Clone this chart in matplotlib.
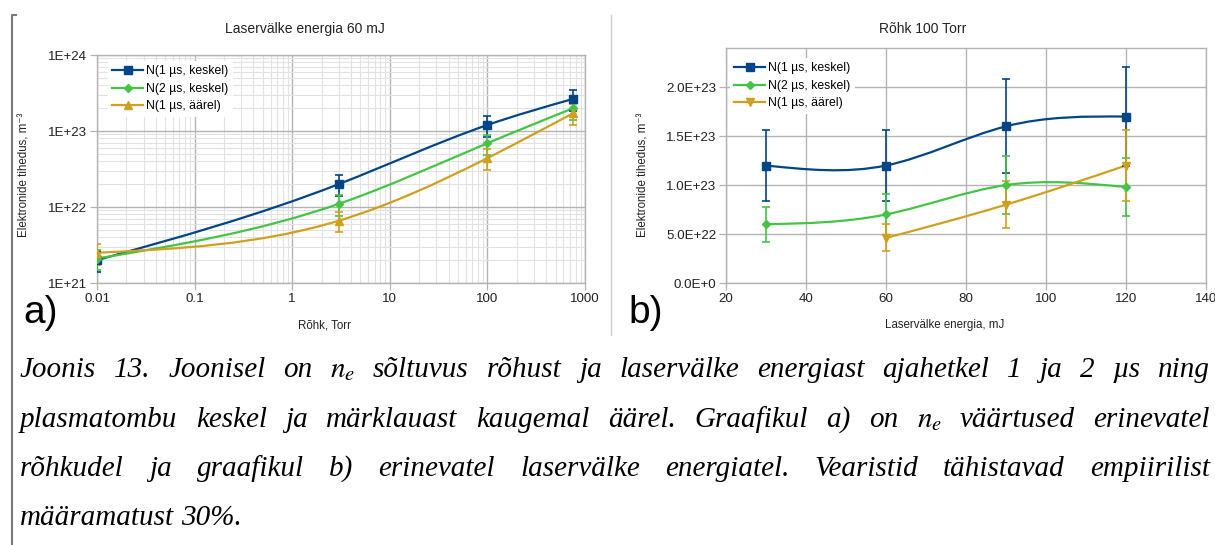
import numpy as np
import matplotlib
matplotlib.use("Agg")
import matplotlib.pyplot as plt
from matplotlib.path import Path
from matplotlib.patches import PathPatch
from matplotlib.lines import Line2D
from matplotlib.ticker import NullFormatter, LogLocator

# ---------------- data ----------------
series_labels = ["N(1 µs, keskel)", "N(2 µs, keskel)", "N(1 µs, äärel)"]
series_colors = ["#004586", "#44c444", "#cfa01e"]

pressure_torr = [0.01, 3, 100, 760]
dens_p_1us_center = [2.0e21, 2.0e22, 1.2e23, 2.65e23]
dens_p_2us_center = [2.1e21, 1.1e22, 6.9e22, 2.0e23]
dens_p_1us_edge = [2.5e21, 6.6e21, 4.4e22, 1.72e23]

energy_mj = [30, 60, 90, 120]
dens_e_1us_center = [1.2e23, 1.2e23, 1.6e23, 1.7e23]
dens_e_2us_center = [6.0e22, 7.0e22, 1.0e23, 9.8e22]
dens_e_1us_edge = [np.nan, 4.6e22, 8.0e22, 1.2e23]

relative_error = 0.30

pressure_ticks = [0.01, 0.1, 1, 10, 100, 1000]
pressure_tick_labels = ["0.01", "0.1", "1", "10", "100", "1000"]
dens_log_ticks = [1e21, 1e22, 1e23, 1e24]
dens_log_tick_labels = ["1E+21", "1E+22", "1E+23", "1E+24"]
energy_ticks = [20, 40, 60, 80, 100, 120, 140]
energy_tick_labels = ["20", "40", "60", "80", "100", "120", "140"]
dens_lin_ticks = [0.0, 0.5e23, 1.0e23, 1.5e23, 2.0e23]
dens_lin_tick_labels = ["0.0E+0", "5.0E+22", "1.0E+23", "1.5E+23", "2.0E+23"]

title_a = "Laservälke energia 60 mJ"
title_b = "Rõhk 100 Torr"
xlabel_a = "Rõhk, Torr"
xlabel_b = "Laservälke energia, mJ"
ylabel = "Elektronide tihedus, m⁻³"

caption_lines = [
    "Joonis 13. Joonisel on $n_e$ sõltuvus rõhust ja laservälke energiast ajahetkel 1 ja 2 µs ning",
    "plasmatombu keskel ja märklauast kaugemal äärel. Graafikul a) on $n_e$ väärtused erinevatel",
    "rõhkudel ja graafikul b) erinevatel laservälke energiatel. Vearistid tähistavad empiirilist",
    "määramatust 30%.",
]

# ---------------- style ----------------
plt.rcParams['font.family'] = ['Liberation Sans', 'DejaVu Sans']
W, H = 1215, 545
fig = plt.figure(figsize=(W / 100, H / 100), dpi=100)
fig.patch.set_facecolor("white")

def fx(px):
    return px / W

def fy(py):
    return 1 - py / H

GRID_MAJ = "#b3b3b3"
GRID_MIN = "#e2e2e2"


def spline_path(x, y, logx=False, logy=False):
    x = np.asarray(x, float)
    y = np.asarray(y, float)
    ok = ~np.isnan(y)
    x, y = x[ok], y[ok]
    u = np.log10(x) if logx else x
    v = np.log10(y) if logy else y
    n = len(u)
    h = np.diff(u)
    M = np.zeros(n)
    if n > 2:
        A = np.zeros((n - 2, n - 2))
        r = np.zeros(n - 2)
        for i in range(1, n - 1):
            A[i - 1, i - 1] = 2 * (h[i - 1] + h[i])
            if i - 2 >= 0:
                A[i - 1, i - 2] = h[i - 1]
            if i < n - 2:
                A[i - 1, i] = h[i]
            r[i - 1] = 6 * ((v[i + 1] - v[i]) / h[i] - (v[i] - v[i - 1]) / h[i - 1])
        M[1:-1] = np.linalg.solve(A, r)
    verts = [(u[0], v[0])]
    codes = [Path.MOVETO]
    for i in range(n - 1):
        s = (v[i + 1] - v[i]) / h[i]
        d0 = s - h[i] * (2 * M[i] + M[i + 1]) / 6
        d1 = s + h[i] * (M[i] + 2 * M[i + 1]) / 6
        verts += [(u[i] + h[i] / 3, v[i] + d0 * h[i] / 3),
                  (u[i + 1] - h[i] / 3, v[i + 1] - d1 * h[i] / 3),
                  (u[i + 1], v[i + 1])]
        codes += [Path.CURVE4] * 3
    verts = np.array(verts)
    if logx:
        verts[:, 0] = 10 ** verts[:, 0]
    if logy:
        verts[:, 1] = 10 ** verts[:, 1]
    return Path(verts, codes)


def draw_series(ax, x, y, color, marker, ms, logx, logy):
    yarr = np.asarray(y, float)
    ax.add_patch(PathPatch(spline_path(x, yarr, logx, logy), fill=False,
                           edgecolor=color, lw=1.6, zorder=3, capstyle='round'))
    ax.errorbar(x, yarr, yerr=relative_error * yarr, fmt=marker, ms=ms,
                color=color, ecolor=color, elinewidth=1.2, capsize=3,
                capthick=1.2, linestyle='none', zorder=4)


def style_axes(ax):
    for s in ax.spines.values():
        s.set_color(GRID_MAJ)
        s.set_linewidth(1.0)
    ax.tick_params(which='major', direction='out', length=5, width=0.9,
                   color=GRID_MAJ, labelsize=9.6, pad=2, labelcolor="#222222")
    ax.tick_params(which='minor', length=0)


markers_a = ["s", "D", "^"]
markers_b = ["s", "D", "v"]
msizes = [5.2, 3.8, 6]

# ---------------- panel a ----------------
axa = fig.add_axes([fx(97), fy(283), fx(585) - fx(97), fy(55) - fy(283)])
axa.set_xscale('log')
axa.set_yscale('log')
axa.set_xlim(0.01, 1000)
axa.set_ylim(1e21, 1e24)
axa.set_xticks(pressure_ticks, pressure_tick_labels)
axa.set_yticks(dens_log_ticks, dens_log_tick_labels)
axa.xaxis.set_minor_locator(LogLocator(base=10, subs=range(2, 10), numticks=50))
axa.yaxis.set_minor_locator(LogLocator(base=10, subs=range(2, 10), numticks=50))
axa.xaxis.set_minor_formatter(NullFormatter())
axa.yaxis.set_minor_formatter(NullFormatter())
axa.grid(True, which='minor', color=GRID_MIN, lw=0.8, zorder=0)
axa.grid(True, which='major', color=GRID_MAJ, lw=1.0, zorder=0)
axa.set_axisbelow(True)
style_axes(axa)
for ys, c, m, ms in zip([dens_p_1us_center, dens_p_2us_center, dens_p_1us_edge],
                        series_colors, markers_a, msizes):
    draw_series(axa, pressure_torr, ys, c, m, ms, True, True)

handles_a = [Line2D([], [], color=c, marker=m, ms=ms, lw=1.6)
             for c, m, ms in zip(series_colors, markers_a, msizes)]
leg = axa.legend(handles_a, series_labels, loc='upper left',
                 bbox_to_anchor=((108 - 97) / 488, 1 - (61 - 55) / 228),
                 borderaxespad=0, frameon=True, fancybox=False, framealpha=1,
                 facecolor='white', edgecolor='none', fontsize=8.8,
                 handlelength=2.5, handletextpad=0.3, labelspacing=0.45,
                 borderpad=0.35)
leg.set_zorder(6)

# ---------------- panel b ----------------
axb = fig.add_axes([fx(726), fy(283), fx(1206) - fx(726), fy(48) - fy(283)])
axb.set_xlim(20, 140)
axb.set_ylim(0, 2.4e23)
axb.set_xticks(energy_ticks, energy_tick_labels)
axb.set_yticks(dens_lin_ticks, dens_lin_tick_labels)
axb.grid(True, which='major', color=GRID_MAJ, lw=1.0, zorder=0)
axb.set_axisbelow(True)
style_axes(axb)
for ys, c, m, ms in zip([dens_e_1us_center, dens_e_2us_center, dens_e_1us_edge],
                        series_colors, markers_b, msizes):
    draw_series(axb, energy_mj, ys, c, m, ms, False, False)

handles_b = [Line2D([], [], color=c, marker=m, ms=ms, lw=1.6)
             for c, m, ms in zip(series_colors, markers_b, msizes)]
legb = axb.legend(handles_b, series_labels, loc='upper left',
                  bbox_to_anchor=((730 - 726) / 480, 1 - (58 - 48) / 235),
                  borderaxespad=0, frameon=True, fancybox=False, framealpha=1,
                  facecolor='white', edgecolor='none', fontsize=8.8,
                  handlelength=2.5, handletextpad=0.3, labelspacing=0.45,
                  borderpad=0.35)
legb.set_zorder(6)

# ---------------- chart texts ----------------
fig.text(fx(305), fy(29), title_a, ha='center', va='center', fontsize=10, color="#222222")
fig.text(fx(923), fy(29), title_b, ha='center', va='center', fontsize=10, color="#222222")
fig.text(fx(325), fy(325), xlabel_a, ha='center', va='center', fontsize=8.3, color="#222222")
fig.text(fx(945), fy(325), xlabel_b, ha='center', va='center', fontsize=8.3, color="#222222")
fig.text(fx(25), fy(175), ylabel, ha='center', va='center', rotation=90, fontsize=8.3, color="#222222")
fig.text(fx(643), fy(175), ylabel, ha='center', va='center', rotation=90, fontsize=8.3, color="#222222")
fig.text(fx(23), fy(323), "a)", ha='left', va='baseline', fontsize=28, color="black")
fig.text(fx(628), fy(323), "b)", ha='left', va='baseline', fontsize=28, color="black")

# decorations: bracket and divider
fig.add_artist(Line2D([fx(12), fx(12), fx(16)], [fy(545), fy(15), fy(15)],
                      transform=fig.transFigure, color="#7a7a7a", lw=1.5))
fig.add_artist(Line2D([fx(611), fx(611)], [fy(335), fy(15)],
                      transform=fig.transFigure, color="#cfcfcf", lw=1.0))

# ---------------- caption (justified) ----------------
renderer = fig.canvas.get_renderer()
cap_size = 21
left_px, right_px = 20, 1210
baselines = [377, 427, 476, 525]
for li, (line, base) in enumerate(zip(caption_lines, baselines)):
    words = line.split(" ")
    texts = []
    for w in words:
        t = fig.text(0, fy(base), w, ha='left', va='baseline', fontsize=cap_size,
                     family='Liberation Serif', style='italic', math_fontfamily='stix',
                     color='black')
        texts.append(t)
    widths = [t.get_window_extent(renderer).width for t in texts]
    if li < len(caption_lines) - 1 and len(words) > 1:
        gap = (right_px - left_px - sum(widths)) / (len(words) - 1)
    else:
        gap = 0.25 * cap_size * 100 / 72
    x = left_px
    for t, wd in zip(texts, widths):
        t.set_x(fx(x))
        x += wd + gap

fig.savefig("out.png", dpi=100, facecolor="white")
